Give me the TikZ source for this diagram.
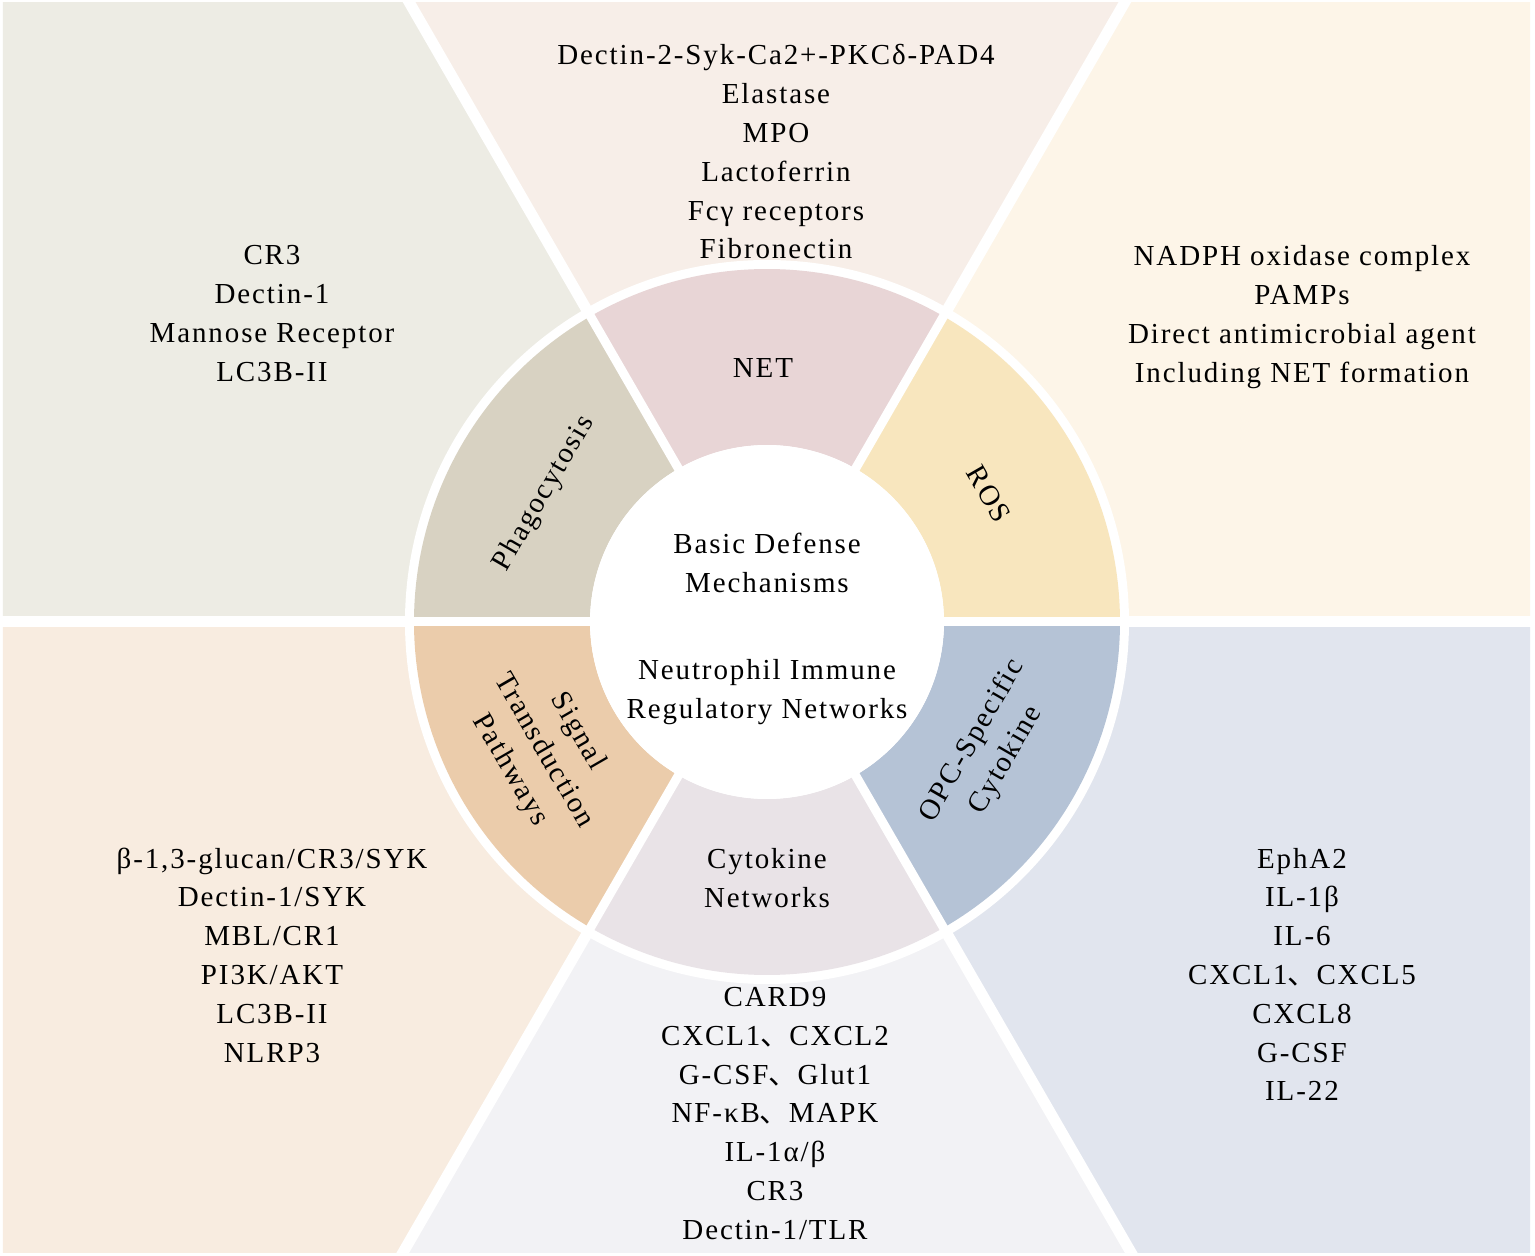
\documentclass[tikz,border=0pt]{standalone}
\usepackage{fontspec}
\setmainfont{Liberation Serif}[LetterSpace=6.5]
\newfontfamily\cjk{Noto Sans CJK SC}
\definecolor{bgTL}{HTML}{EDECE4}
\definecolor{bgT}{HTML}{F7EEE8}
\definecolor{bgTR}{HTML}{FDF5E8}
\definecolor{bgBL}{HTML}{F8ECE0}
\definecolor{bgB}{HTML}{F2F2F5}
\definecolor{bgBR}{HTML}{E1E5EE}
\definecolor{cPha}{HTML}{D8D2C2}
\definecolor{cNET}{HTML}{E8D5D6}
\definecolor{cROS}{HTML}{F8E6BE}
\definecolor{cOPC}{HTML}{B5C3D6}
\definecolor{cCyt}{HTML}{E9E3E7}
\definecolor{cSig}{HTML}{EBCCAB}
\newcommand{\cc}{{\cjk 、}}
\begin{document}
\begin{tikzpicture}[x=1pt,y=1pt,
  txt/.style={font=\fontsize{29}{38.8}\selectfont, align=center, inner sep=0pt, text=black},
  gapline/.style={white, line width=11pt},
  ringgap/.style={white, line width=9pt}]
\useasboundingbox (-767,-634) rectangle (768,622);
\fill[white] (-767,-634) rectangle (768,622);
% background sectors
\begin{scope}
\clip (-764,-630) rectangle (763,619);
\fill[bgTL] (0,0) -- (120:1600) -- (-1600,1600) -- (180:1600) -- cycle;
\fill[bgT] (0,0) -- (60:1600) -- (120:1600) -- cycle;
\fill[bgTR] (0,0) -- (0:1600) -- (1600,1600) -- (60:1600) -- cycle;
\fill[bgBR] (0,0) -- (-60:1600) -- (1600,-1600) -- (0:1600) -- cycle;
\fill[bgB] (0,0) -- (-120:1600) -- (-60:1600) -- cycle;
\fill[bgBL] (0,0) -- (180:1600) -- (-1600,-1600) -- (-120:1600) -- cycle;
\end{scope}
\foreach \a in {0,60,...,300} \draw[gapline] (0,0) -- (\a:1700);
\fill[white] (0,0) circle (362);
% ring sectors
\foreach \s/\col in {0/cROS,60/cNET,120/cPha,180/cSig,240/cCyt,300/cOPC}{
  \pgfmathsetmacro{\e}{\s+60}
  \fill[\col] (\s:353) arc[start angle=\s, end angle=\e, radius=353] -- (\e:177) arc[start angle=\e, end angle=\s, radius=177] -- cycle;
}
\foreach \a in {0,60,...,300} \draw[ringgap] (0,0) -- (\a:362);
\fill[white] (0,0) circle (177);
% centre texts
\node[txt] (basic) at (0,59) {Basic Defense\\Mechanisms};
\node[txt] (neut) at (0,-70) {Neutrophil Immune\\Regulatory Networks};
% ring labels
\node[txt] (net) at (-4,254) {NET};
\node[txt, rotate=60] (pha) at (150:257) {Phagocytosis};
\node[txt, rotate=-60] (ros) at (30:256) {ROS};
\node[txt, rotate=-60] (sig) at (210:258) {Signal\\Transduction\\Pathways};
\node[txt, rotate=60] (opc) at (-30:257) {OPC-Specific\\Cytokine};
\node[txt] (cyt) at (0,-256) {Cytokine\\Networks};
% outer texts
\node[txt] (tl) at (-495,308.5) {CR3\\Dectin-1\\Mannose Receptor\\LC3B-II};
\node[txt] (tc) at (9,470) {Dectin-2-Syk-Ca2+-PKCδ-PAD4\\Elastase\\MPO\\Lactoferrin\\Fcγ receptors\\Fibronectin};
\node[txt] (tr) at (535,305) {NADPH oxidase complex\\PAMPs\\Direct antimicrobial agent\\Including NET formation};
\node[txt] (bl) at (-495,-333) {β-1,3-glucan/CR3/SYK\\Dectin-1/SYK\\MBL/CR1\\PI3K/AKT\\LC3B-II\\NLRP3};
\node[txt] (bc) at (8,-491.5) {CARD9\\CXCL1\cc CXCL2\\G-CSF\cc Glut1\\NF-κB\cc MAPK\\IL-1α/β\\CR3\\Dectin-1/TLR};
\node[txt] (br) at (535,-352.5) {EphA2\\IL-1β\\IL-6\\CXCL1\cc CXCL5\\CXCL8\\G-CSF\\IL-22};
\end{tikzpicture}
\end{document}
